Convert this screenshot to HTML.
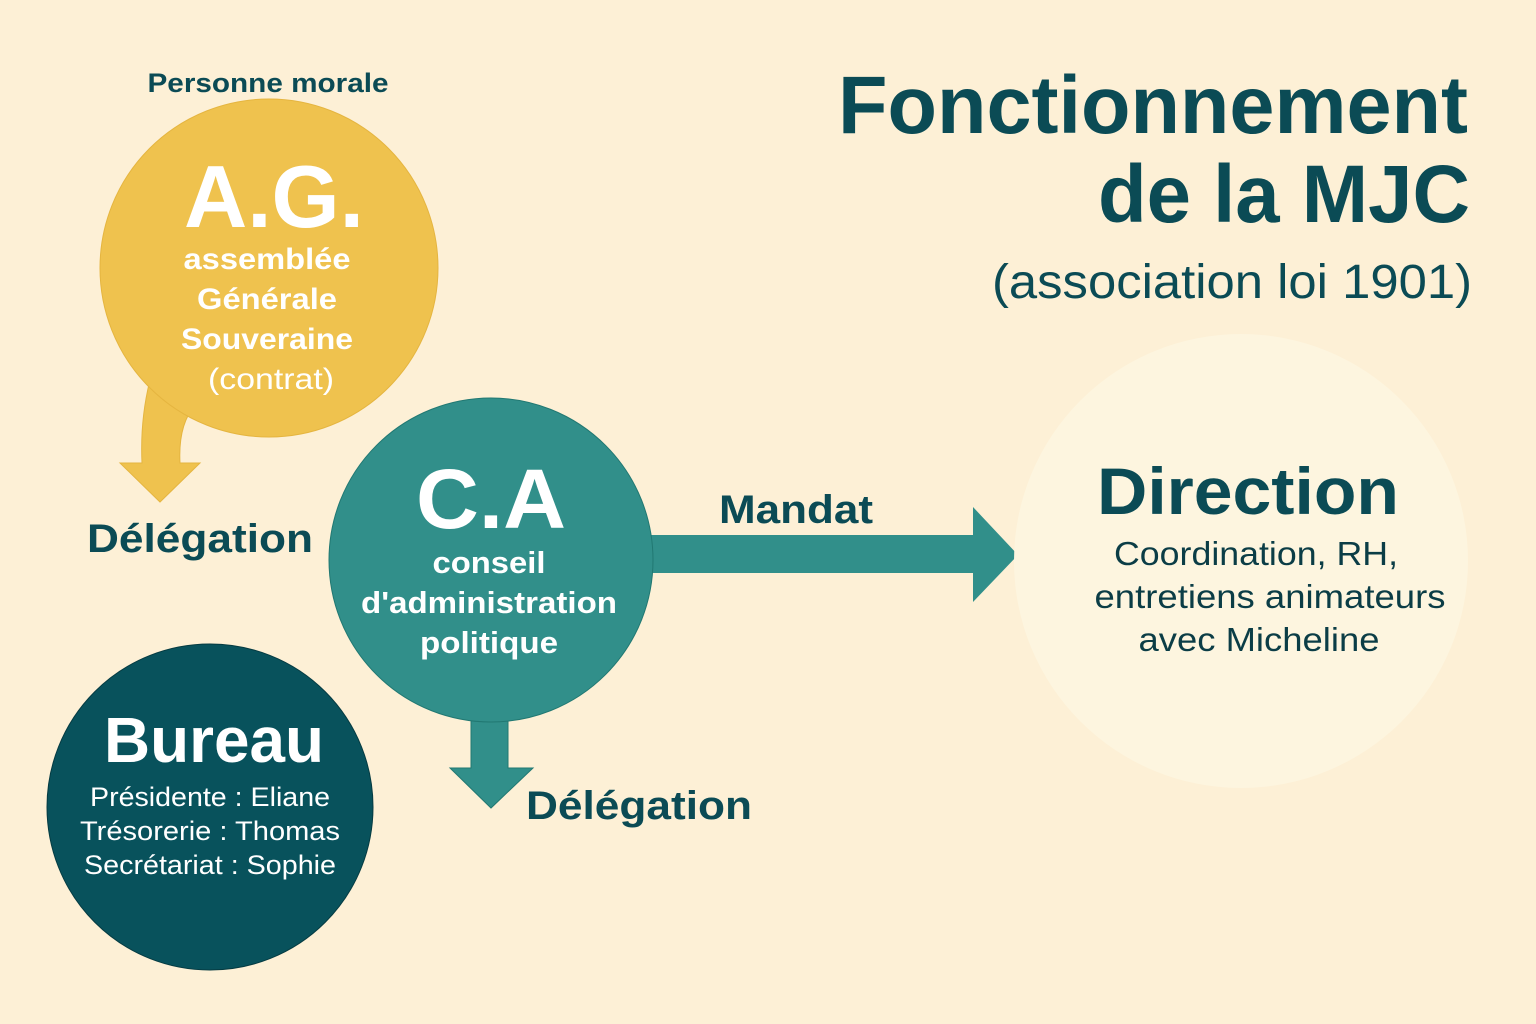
<!DOCTYPE html>
<html><head><meta charset="utf-8"><style>
html,body{margin:0;padding:0;background:#fdf0d6;}
svg{display:block;font-family:"Liberation Sans",sans-serif;}
</style></head><body>
<svg width="1536" height="1024" viewBox="0 0 1536 1024" xmlns="http://www.w3.org/2000/svg">
<rect width="1536" height="1024" fill="#fdf0d6"/>
<path d="M150 380 Q140 420 142 463 L120 463 L160 502 L200 463 L180 463 Q178 425 195 405 Z" fill="#efc24e" stroke="#e5b540" stroke-width="1"/>
<circle cx="269" cy="268" r="169" fill="#efc24e" stroke="#e5b540" stroke-width="1"/>
<path d="M640 535 L973 535 L973 507 L1018 555 L973 602 L973 573 L640 573 Z" fill="#318f8a"/>
<path d="M471 700 L508 700 L508 768 L533 768 L491 808 L450 768 L471 768 Z" fill="#318f8a" stroke="#217872" stroke-width="1"/>
<circle cx="491" cy="560" r="162" fill="#318f8a" stroke="#217872" stroke-width="1"/>
<circle cx="210" cy="807" r="163" fill="#08525c" stroke="#053b42" stroke-width="1"/>
<circle cx="1241" cy="561" r="227" fill="#fdf5df"/>
<g fill="#0b4b55" font-weight="bold">
<text x="268" y="92" font-size="27" text-anchor="middle" textLength="241" lengthAdjust="spacingAndGlyphs">Personne morale</text>
<text x="1468" y="133" font-size="82" text-anchor="end" textLength="630" lengthAdjust="spacingAndGlyphs">Fonctionnement</text>
<text x="1470" y="222" font-size="82" text-anchor="end" textLength="372" lengthAdjust="spacingAndGlyphs">de la MJC</text>
<text x="200" y="552" font-size="40" text-anchor="middle" textLength="226" lengthAdjust="spacingAndGlyphs">Délégation</text>
<text x="639" y="819" font-size="40" text-anchor="middle" textLength="226" lengthAdjust="spacingAndGlyphs">Délégation</text>
<text x="796" y="523" font-size="40" text-anchor="middle" textLength="154" lengthAdjust="spacingAndGlyphs">Mandat</text>
<text x="1248" y="514" font-size="66" text-anchor="middle" textLength="302" lengthAdjust="spacingAndGlyphs">Direction</text>
</g>
<text x="1472" y="298" font-size="48" fill="#0b4b55" text-anchor="end" textLength="480" lengthAdjust="spacingAndGlyphs">(association loi 1901)</text>
<g fill="#fff" font-weight="bold" text-anchor="middle">
<text x="274" y="227" font-size="88" textLength="180" lengthAdjust="spacingAndGlyphs">A.G.</text>
<text x="267" y="269" font-size="30" textLength="167" lengthAdjust="spacingAndGlyphs">assemblée</text>
<text x="267" y="309" font-size="30" textLength="140" lengthAdjust="spacingAndGlyphs">Générale</text>
<text x="267" y="349" font-size="30" textLength="172" lengthAdjust="spacingAndGlyphs">Souveraine</text>
<text x="491" y="528" font-size="84" textLength="150" lengthAdjust="spacingAndGlyphs">C.A</text>
<text x="489" y="573" font-size="31" textLength="113" lengthAdjust="spacingAndGlyphs">conseil</text>
<text x="489" y="613" font-size="31" textLength="256" lengthAdjust="spacingAndGlyphs">d'administration</text>
<text x="489" y="653" font-size="31" textLength="138" lengthAdjust="spacingAndGlyphs">politique</text>
<text x="214" y="762" font-size="64" textLength="220" lengthAdjust="spacingAndGlyphs">Bureau</text>
</g>
<g fill="#fff" text-anchor="middle">
<text x="271" y="389" font-size="30" textLength="126" lengthAdjust="spacingAndGlyphs">(contrat)</text>
<text x="210" y="806" font-size="27" textLength="240" lengthAdjust="spacingAndGlyphs">Présidente : Eliane</text>
<text x="210" y="840" font-size="27" textLength="260" lengthAdjust="spacingAndGlyphs">Trésorerie : Thomas</text>
<text x="210" y="874" font-size="27" textLength="252" lengthAdjust="spacingAndGlyphs">Secrétariat : Sophie</text>
</g>
<g fill="#0b3d46" text-anchor="middle" font-size="33">
<text x="1256" y="565" textLength="284" lengthAdjust="spacingAndGlyphs">Coordination, RH,</text>
<text x="1270" y="608" textLength="351" lengthAdjust="spacingAndGlyphs">entretiens animateurs</text>
<text x="1259" y="651" textLength="241" lengthAdjust="spacingAndGlyphs">avec Micheline</text>
</g>
</svg>
</body></html>
